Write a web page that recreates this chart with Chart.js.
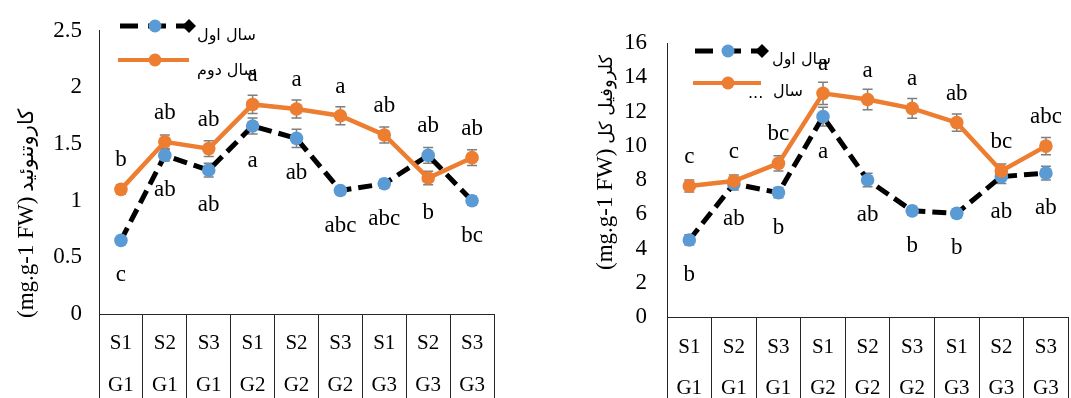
<!DOCTYPE html>
<html>
<head>
<meta charset="utf-8">
<script src="https://cdn.jsdelivr.net/npm/chart.js@4.4.1/dist/chart.umd.min.js"></script>
<style>
  body { margin: 0; background: #fff; overflow: hidden; width: 1071px; height: 398px; position: relative; }
  .box { position: absolute; top: 0; }
</style>
</head>
<body>
<div class="box" style="left:0"><canvas id="carot" width="530" height="398"></canvas></div>
<div class="box" style="left:530px"><canvas id="chl" width="545" height="398"></canvas></div>
<script>
// categories (treatment: salt level / genotype)
const categories = [
  ['S1', 'G1'], ['S2', 'G1'], ['S3', 'G1'],
  ['S1', 'G2'], ['S2', 'G2'], ['S3', 'G2'],
  ['S1', 'G3'], ['S2', 'G3'], ['S3', 'G3']
];

// carotenoid (mg.g-1 FW)
const carotYear1 = [0.65, 1.40, 1.27, 1.66, 1.55, 1.09, 1.15, 1.40, 1.00];
const carotYear2 = [1.10, 1.52, 1.46, 1.85, 1.81, 1.75, 1.58, 1.20, 1.38];
const carotErr1 = [0.03, 0.05, 0.06, 0.07, 0.08, 0.03, 0.04, 0.07, 0.04];
const carotErr2 = [0.04, 0.06, 0.07, 0.08, 0.08, 0.08, 0.07, 0.06, 0.07];
const carotLetters1 = ['c', 'ab', 'ab', 'a', 'ab', 'abc', 'abc', 'ab', 'bc'];
const carotLetters2 = ['b', 'ab', 'ab', 'a', 'a', 'a', 'ab', 'b', 'ab'];

// total chlorophyll (mg.g-1 FW)
const chlYear1 = [4.5, 7.77, 7.26, 11.7, 8.0, 6.2, 6.05, 8.2, 8.4];
const chlYear2 = [7.65, 7.94, 8.97, 13.06, 12.7, 12.18, 11.35, 8.53, 9.98];
const chlErr1 = [0.3, 0.35, 0.3, 0.55, 0.4, 0.25, 0.25, 0.4, 0.4];
const chlErr2 = [0.35, 0.35, 0.45, 0.65, 0.6, 0.58, 0.5, 0.4, 0.5];
const chlLetters1 = ['b', 'ab', 'b', 'a', 'ab', 'b', 'b', 'ab', 'ab'];
const chlLetters2 = ['c', 'c', 'bc', 'a', 'a', 'a', 'ab', 'bc', 'abc'];

const year1Name = 'سال اول';
const year2Name = 'سال دوم';

const SERIF = "'Liberation Serif', 'Times New Roman', serif";
const ARABIC = "'DejaVu Sans', sans-serif";
const BLUE = '#5b9bd5';
const ORANGE = '#ed7d31';
const LINE = '#262626';
const ERRCOL = '#7f7f7f';

function circle(ctx, x, y, col) {
  ctx.fillStyle = col;
  ctx.beginPath();
  ctx.arc(x, y, 6.5, 0, Math.PI * 2);
  ctx.fill();
}

function diamond(ctx, x, y) {
  ctx.fillStyle = '#000';
  ctx.beginPath();
  ctx.moveTo(x, y - 7); ctx.lineTo(x + 7, y); ctx.lineTo(x, y + 7); ctx.lineTo(x - 7, y);
  ctx.closePath();
  ctx.fill();
}

// error bars, letters, legend and rotated axis title
function decorPlugin(p) {
  return {
    id: 'decor',
    beforeDatasetsDraw(chart) {
      const ctx = chart.ctx, ys = chart.scales.y;
      ctx.save();
      ctx.strokeStyle = ERRCOL;
      ctx.lineWidth = 1.5;
      [[p.year1, p.err1], [p.year2, p.err2]].forEach(([vals, errs], d) => {
        const meta = chart.getDatasetMeta(d);
        vals.forEach((v, i) => {
          const x = meta.data[i].x;
          const t = ys.getPixelForValue(v + errs[i]);
          const b = ys.getPixelForValue(v - errs[i]);
          ctx.beginPath();
          ctx.moveTo(x, t); ctx.lineTo(x, b);
          ctx.moveTo(x - 5, t); ctx.lineTo(x + 5, t);
          ctx.moveTo(x - 5, b); ctx.lineTo(x + 5, b);
          ctx.stroke();
        });
      });
      ctx.restore();
    },
    afterDatasetsDraw(chart) {
      const ctx = chart.ctx;
      const m1 = chart.getDatasetMeta(0), m2 = chart.getDatasetMeta(1);
      ctx.save();
      ctx.fillStyle = '#000';
      ctx.font = '23px ' + SERIF;
      ctx.textAlign = 'center';
      ctx.textBaseline = 'middle';
      p.year1.forEach((v, i) => {
        const a = m1.data[i], b = m2.data[i];
        const hi = p.year1[i] > p.year2[i];
        const up = hi ? a : b, dn = hi ? b : a;
        ctx.fillText(hi ? p.letters1[i] : p.letters2[i], up.x, up.y - 29);
        ctx.fillText(hi ? p.letters2[i] : p.letters1[i], dn.x, dn.y + 35);
      });
      ctx.restore();
    },
    afterDraw(chart) {
      const ctx = chart.ctx, L = p.legend;
      ctx.save();
      // legend row 1
      ctx.strokeStyle = '#000';
      ctx.lineWidth = 5;
      ctx.setLineDash([18, 10]);
      ctx.beginPath(); ctx.moveTo(L.x0, L.y1); ctx.lineTo(L.x1, L.y1); ctx.stroke();
      ctx.setLineDash([]);
      circle(ctx, L.cx, L.y1, BLUE);
      diamond(ctx, L.dx, L.y1);
      // legend row 2
      ctx.strokeStyle = ORANGE;
      ctx.lineWidth = 4;
      ctx.beginPath(); ctx.moveTo(L.x0 - 2, L.y2); ctx.lineTo(L.x1 + 1, L.y2); ctx.stroke();
      circle(ctx, L.cx, L.y2, ORANGE);
      ctx.fillStyle = '#000';
      ctx.font = '16px ' + ARABIC;
      ctx.textAlign = 'left';
      ctx.textBaseline = 'middle';
      ctx.fillText(year1Name, L.tx1, L.ty1);
      if (L.short) {
        ctx.fillText('...', L.tx2, L.ty2 + 2);
        ctx.fillText('سال', L.tx2 + 25, L.ty2);
      } else {
        ctx.fillText(year2Name, L.tx2, L.ty2);
      }
      // y axis title
      const T = p.title;
      ctx.translate(T.bx, T.by);
      ctx.rotate(-Math.PI / 2);
      ctx.textBaseline = 'alphabetic';
      ctx.font = '23px ' + SERIF;
      ctx.fillText('(mg.g-1 FW)', 0, 0);
      const w = ctx.measureText('(mg.g-1 FW)').width;
      ctx.font = T.arSize + 'px ' + ARABIC;
      ctx.fillText(T.arabic, w + 5, 0);
      ctx.restore();
    }
  };
}

function buildChart(id, p) {
  const ctx = document.getElementById(id).getContext('2d');
  return new Chart(ctx, {
    type: 'line',
    data: {
      labels: categories,
      datasets: [
        {
          label: year1Name, data: p.year1, order: 1,
          borderColor: '#000', borderWidth: 5, borderDash: [14, 7],
          pointRadius: 6.8, pointBackgroundColor: BLUE, pointBorderColor: BLUE, pointBorderWidth: 0,
          tension: 0
        },
        {
          label: year2Name, data: p.year2, order: 0,
          borderColor: ORANGE, borderWidth: 4.5,
          pointRadius: 6.8, pointBackgroundColor: ORANGE, pointBorderColor: ORANGE, pointBorderWidth: 0,
          tension: 0
        }
      ]
    },
    options: {
      responsive: false,
      animation: false,
      devicePixelRatio: 1,
      layout: { padding: { top: p.top, right: p.padRight, left: 0, bottom: 0 } },
      plugins: { legend: { display: false }, tooltip: { enabled: false } },
      scales: {
        x: {
          offset: true,
          grid: { offset: true, drawOnChartArea: false, drawTicks: true, tickLength: p.tableH, color: LINE, lineWidth: 1 },
          border: { display: true, color: LINE, width: 1 },
          ticks: {
            color: '#000', autoSkip: false, maxRotation: 0, padding: p.labelPad,
            font: { family: SERIF, size: 21, lineHeight: p.rowGap / 21 }
          },
          afterFit: s => { s.height = p.tableH; }
        },
        y: {
          min: 0, max: p.yMax,
          grid: { display: false, drawTicks: false },
          border: { display: true, color: LINE, width: 1 },
          ticks: {
            stepSize: p.step, padding: p.tickPad, color: '#000',
            font: { family: SERIF, size: 23 },
            callback: v => String(v)
          },
          afterFit: s => { s.width = p.axisW; }
        }
      }
    },
    plugins: [decorPlugin(p)]
  });
}

buildChart('carot', {
  year1: carotYear1, year2: carotYear2, err1: carotErr1, err2: carotErr2,
  letters1: carotLetters1, letters2: carotLetters2,
  yMax: 2.5, step: 0.5, top: 24, padRight: 36, axisW: 99, tickPad: 17,
  tableH: 84, rowGap: 42, labelPad: -76,
  legend: { x0: 120, x1: 188, cx: 155, dx: 189, y1: 26, y2: 60, tx1: 197, ty1: 36, tx2: 197, ty2: 71 },
  title: { bx: 33, by: 318, arabic: 'کاروتنوئید', arSize: 21 }
});

buildChart('chl', {
  year1: chlYear1, year2: chlYear2, err1: chlErr1, err2: chlErr2,
  letters1: chlLetters1, letters2: chlLetters2,
  yMax: 16, step: 2, top: 43, padRight: 2, axisW: 137, tickPad: 20,
  tableH: 81, rowGap: 41, labelPad: -71,
  legend: { x0: 165, x1: 230, cx: 198, dx: 232, y1: 51, y2: 83, tx1: 242, ty1: 60, tx2: 218, ty2: 92, short: true },
  title: { bx: 82, by: 270, arabic: 'کلروفیل کل', arSize: 18 }
});
</script>
</body>
</html>
